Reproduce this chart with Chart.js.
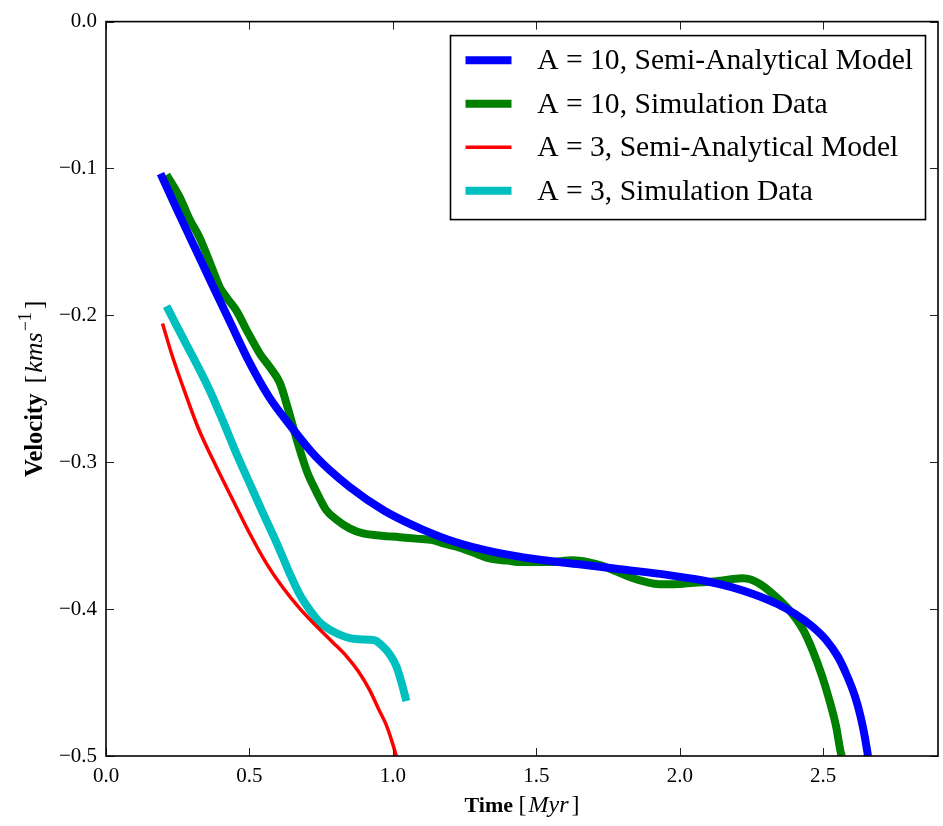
<!DOCTYPE html>
<html><head><meta charset="utf-8">
<script src="https://cdn.jsdelivr.net/npm/chart.js@4"></script>
<style>html,body{margin:0;padding:0;background:#fff}canvas{display:block}</style>
</head><body>
<canvas id="c" width="943" height="826"></canvas>
<script>
// ---- data ----
const seriesLabels = ['A = 10, Semi-Analytical Model', 'A = 10, Simulation Data', 'A = 3, Semi-Analytical Model', 'A = 3, Simulation Data'];
const seriesColors = ['#0000ff', '#008000', '#ff0000', '#00bfbf'];

const blueT = [0.19, 0.25, 0.31, 0.37, 0.43, 0.50, 0.57, 0.64, 0.73, 0.85, 0.97, 1.10, 1.22, 1.35, 1.50, 1.65, 1.80, 1.95, 2.08, 2.18, 2.26, 2.34, 2.40, 2.46, 2.51, 2.55, 2.58, 2.61, 2.63, 2.645, 2.656];
const blueV = [-0.1035, -0.1290, -0.1540, -0.1790, -0.2035, -0.2320, -0.2560, -0.2745, -0.2960, -0.3170, -0.3330, -0.3455, -0.3545, -0.3610, -0.3660, -0.3695, -0.3730, -0.3765, -0.3805, -0.3850, -0.3900, -0.3965, -0.4030, -0.4115, -0.4210, -0.4320, -0.4440, -0.4590, -0.4730, -0.4870, -0.5000];

const greenT = [0.211, 0.235, 0.258, 0.29, 0.327, 0.36, 0.397, 0.425, 0.455, 0.49, 0.536, 0.57, 0.606, 0.635, 0.664, 0.70, 0.733, 0.768, 0.803, 0.849, 0.896, 0.96, 1.023, 1.08, 1.139, 1.18, 1.23, 1.28, 1.337, 1.40, 1.45, 1.545, 1.626, 1.68, 1.73, 1.78, 1.83, 1.882, 1.928, 1.98, 2.05, 2.126, 2.218, 2.25, 2.28, 2.32, 2.381, 2.43, 2.462, 2.495, 2.52, 2.545, 2.561, 2.565];
const greenV = [-0.1044, -0.112, -0.120, -0.134, -0.1474, -0.163, -0.181, -0.189, -0.197, -0.210, -0.226, -0.235, -0.246, -0.264, -0.284, -0.306, -0.320, -0.3327, -0.339, -0.345, -0.3485, -0.350, -0.351, -0.352, -0.353, -0.3555, -0.358, -0.3615, -0.3655, -0.3670, -0.3680, -0.3680, -0.3668, -0.3680, -0.3705, -0.3745, -0.3785, -0.3815, -0.3830, -0.3830, -0.3820, -0.3810, -0.3790, -0.3800, -0.3830, -0.3890, -0.4005, -0.4140, -0.4276, -0.4450, -0.4610, -0.4800, -0.4976, -0.5000];

const redT = [0.197, 0.23, 0.269, 0.32, 0.385, 0.443, 0.501, 0.559, 0.617, 0.675, 0.733, 0.79, 0.84, 0.88, 0.92, 0.95, 0.975, 0.995, 1.012];
const redV = [-0.2055, -0.227, -0.249, -0.276, -0.3033, -0.326, -0.3485, -0.3688, -0.3855, -0.3995, -0.4115, -0.4225, -0.4325, -0.4425, -0.4555, -0.4680, -0.4780, -0.4890, -0.5000];

const cyanT = [0.211, 0.25, 0.29, 0.33, 0.362, 0.41, 0.455, 0.50, 0.548, 0.595, 0.640, 0.675, 0.710, 0.745, 0.780, 0.81, 0.849, 0.88, 0.919, 0.94, 0.965, 0.99, 1.012, 1.03, 1.047];
const cyanV = [-0.1937, -0.2085, -0.2235, -0.2385, -0.2513, -0.273, -0.2943, -0.314, -0.335, -0.355, -0.3756, -0.390, -0.4005, -0.409, -0.414, -0.417, -0.4197, -0.4205, -0.4208, -0.4215, -0.4254, -0.431, -0.4389, -0.450, -0.4626];

const seriesT = [blueT, greenT, redT, cyanT];
const seriesV = [blueV, greenV, redV, cyanV];
const seriesWidth = [8, 8, 3.5, 8];

const xTicks = [0.0, 0.5, 1.0, 1.5, 2.0, 2.5];
const yTicks = [0.0, -0.1, -0.2, -0.3, -0.4, -0.5];

// ---- chart ----
const FONT = "'Liberation Serif', 'DejaVu Serif', serif";
const fmt = v => (v < -1e-9 ? '\u2212' : '') + Math.abs(v).toFixed(1);

const overlay = {
  id: 'overlay',
  afterDraw(chart) {
    const { ctx, chartArea: a, scales: { x, y } } = chart;
    ctx.save();
    const seg = (x1, y1, x2, y2) => { ctx.beginPath(); ctx.moveTo(x1, y1); ctx.lineTo(x2, y2); ctx.stroke(); };
    // inward ticks on all sides
    ctx.strokeStyle = '#222'; ctx.lineWidth = 1;
    const TL = 8;
    x.ticks.forEach(t => {
      const px = Math.round(x.getPixelForValue(t.value)) + 0.5;
      seg(px, a.bottom, px, a.bottom - TL); seg(px, a.top, px, a.top + TL);
    });
    y.ticks.forEach(t => {
      const py = Math.round(y.getPixelForValue(t.value)) + 0.5;
      seg(a.left, py, a.left + TL, py); seg(a.right, py, a.right - TL, py);
    });
    // frame
    ctx.strokeStyle = '#000'; ctx.lineWidth = 1.6;
    ctx.strokeRect(a.left, a.top, a.right - a.left, a.bottom - a.top);

    // legend
    const L = { left: a.right - 12.5 - 475, top: a.top + 14, w: 475, h: 184 };
    ctx.fillStyle = '#fff';
    ctx.fillRect(L.left, L.top, L.w, L.h);
    ctx.strokeStyle = '#000'; ctx.lineWidth = 1.6;
    ctx.strokeRect(L.left, L.top, L.w, L.h);
    ctx.font = '29.6px ' + FONT;
    ctx.textBaseline = 'middle'; ctx.textAlign = 'left';
    chart.data.datasets.forEach((ds, i) => {
      const ry = L.top + 24.7 + i * 43.5;
      ctx.strokeStyle = ds.borderColor; ctx.lineWidth = ds.borderWidth; ctx.lineCap = 'butt';
      seg(L.left + 15, ry, L.left + 61, ry);
      ctx.fillStyle = '#000';
      ctx.fillText(ds.label, L.left + 86.7, ry + 1);
    });

    // axis titles (mixed fonts)
    const drawParts = (parts, cx, baseY) => {
      let total = 0;
      parts.forEach(p => { ctx.font = p.f; p.w = ctx.measureText(p.t).width + (p.gap || 0); total += p.w; });
      let cur = cx - total / 2;
      ctx.textAlign = 'left'; ctx.textBaseline = 'alphabetic'; ctx.fillStyle = '#000';
      parts.forEach(p => { ctx.font = p.f; ctx.fillText(p.t, cur, baseY + (p.dy || 0)); cur += p.w; });
    };
    drawParts([
      { t: 'Time ', f: 'bold 22px ' + FONT },
      { t: '[', f: '24px ' + FONT, gap: 2 },
      { t: 'Myr', f: 'italic 24px ' + FONT, gap: 3 },
      { t: ']', f: '24px ' + FONT }
    ], (a.left + a.right) / 2, 812);

    ctx.save();
    ctx.translate(42, (a.top + a.bottom) / 2);
    ctx.rotate(-Math.PI / 2);
    drawParts([
      { t: 'Velocity ', f: 'bold 24.5px ' + FONT, gap: 4 },
      { t: '[', f: '26px ' + FONT, gap: 2 },
      { t: 'kms', f: 'italic 26px ' + FONT, gap: 1 },
      { t: '\u22121', f: '18px ' + FONT, dy: -11, gap: 3 },
      { t: ']', f: '26px ' + FONT }
    ], 0, 0);
    ctx.restore();

    ctx.restore();
  }
};

new Chart(document.getElementById('c'), {
  type: 'line',
  data: {
    datasets: seriesLabels.map((lab, i) => ({
      label: lab,
      data: seriesT[i].map((t, k) => ({ x: t, y: seriesV[i][k] })),
      borderColor: seriesColors[i],
      backgroundColor: seriesColors[i],
      borderWidth: seriesWidth[i],
      pointRadius: 0,
      fill: false,
      cubicInterpolationMode: 'monotone'
    }))
  },
  options: {
    responsive: false,
    animation: false,
    devicePixelRatio: 1,
    layout: { padding: { left: 0, top: 19, right: 5, bottom: 0 } },
    plugins: { legend: { display: false }, tooltip: { enabled: false } },
    elements: { line: { borderCapStyle: 'butt', borderJoinStyle: 'round' } },
    scales: {
      x: {
        type: 'linear', min: 0, max: 2.9,
        grid: { display: false, drawTicks: false, tickLength: 0 },
        border: { display: false },
        afterBuildTicks: s => { s.ticks = xTicks.map(v => ({ value: v })); },
        afterFit: s => { s.height = 70; },
        ticks: { padding: 8, color: '#000', autoSkip: false, maxRotation: 0, font: { family: FONT, size: 21 }, callback: v => fmt(v) }
      },
      y: {
        type: 'linear', min: -0.5, max: 0,
        grid: { display: false, drawTicks: false, tickLength: 0 },
        border: { display: false },
        afterBuildTicks: s => { s.ticks = yTicks.map(v => ({ value: v })); },
        afterFit: s => { s.width = 106; },
        ticks: { padding: 9, color: '#000', autoSkip: false, font: { family: FONT, size: 21 }, callback: v => fmt(v) }
      }
    }
  },
  plugins: [overlay]
});
</script>
</body></html>
